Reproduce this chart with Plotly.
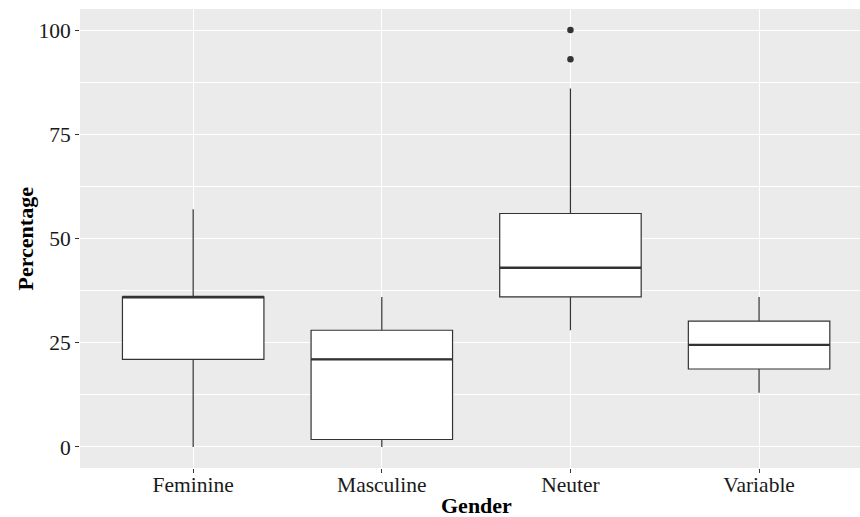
import plotly.graph_objects as go

categories = ["Feminine", "Masculine", "Neuter", "Variable"]
lower_whisker = [0, 0, 28, 13]
q1_values = [21, 1.8, 36, 18.7]
median_values = [36, 21, 43, 24.5]
q3_values = [36, 28, 56, 30.2]
upper_whisker = [57, 36, 86, 36]
outlier_category = ["Neuter", "Neuter"]
outlier_values = [100, 93]
y_ticks = [0, 25, 50, 75, 100]
y_minor = [12.5, 37.5, 62.5, 87.5]

box_width = 0.75
line_col = "#333333"
font_family = "Liberation Serif, Times New Roman, serif"
tick_font = dict(size=21.5, family=font_family, color="#1a1a1a")
title_font = dict(size=22, family=font_family, color="black")

fig = go.Figure()
for i, cat in enumerate(categories):
    fig.add_trace(go.Box(
        x=[i], q1=[q1_values[i]], median=[median_values[i]], q3=[q3_values[i]],
        lowerfence=[lower_whisker[i]], upperfence=[upper_whisker[i]],
        width=box_width, whiskerwidth=0, fillcolor="white",
        line=dict(color=line_col, width=1.2), boxpoints=False,
        showlegend=False, hoverinfo="skip", name=cat,
    ))
    # thicker median line, as in ggplot2
    fig.add_trace(go.Scatter(
        x=[i - box_width / 2, i + box_width / 2],
        y=[median_values[i], median_values[i]],
        mode="lines", line=dict(color=line_col, width=2.4),
        showlegend=False, hoverinfo="skip",
    ))

fig.add_trace(go.Scatter(
    x=[categories.index(c) for c in outlier_category], y=outlier_values,
    mode="markers", marker=dict(color=line_col, size=6.5),
    showlegend=False, hoverinfo="skip",
))

L, R, T, B = 80, 0, 9, 49
W, H = 860, 517
fig.update_layout(
    width=W, height=H,
    margin=dict(l=L, r=R, t=T, b=B, autoexpand=False),
    paper_bgcolor="white", plot_bgcolor="#EBEBEB",
    font=dict(family=font_family, color="#1a1a1a", size=16),
)
fig.update_xaxes(
    range=[-0.6, 3.535], tickmode="array",
    tickvals=list(range(len(categories))), ticktext=categories,
    showgrid=True, gridcolor="white", gridwidth=1.3, zeroline=False,
    ticks="outside", ticklen=4, tickcolor=line_col, tickwidth=1,
    tickfont=tick_font, automargin=False, showline=False,
    ticklabelstandoff=-7,
)
fig.update_yaxes(
    range=[-5.04, 105.04], tickmode="array", tickvals=y_ticks,
    showgrid=True, gridcolor="white", gridwidth=1.3, zeroline=False,
    minor=dict(tickmode="array", tickvals=y_minor, showgrid=True,
               gridcolor="white", gridwidth=0.6, ticks=""),
    ticks="outside", ticklen=4, tickcolor=line_col, tickwidth=1,
    tickfont=tick_font, automargin=False, showline=False,
)

pw = W - L - R
ph = H - T - B
fig.add_annotation(
    text="<b>Gender</b>", xref="paper", yref="paper",
    x=(476 - L) / pw, y=-(505 - (H - B)) / ph, yanchor="middle", xanchor="center",
    showarrow=False, font=title_font, height=18, valign="middle",
)
fig.add_annotation(
    text="<b>Percentage</b>", xref="paper", yref="paper",
    x=-(L - 25) / pw, y=0.5, xanchor="center", yanchor="middle", textangle=-90,
    showarrow=False, font=title_font,
)

fig.write_html("out.html", config={"displayModeBar": False},
               post_script="document.body.style.margin='0px';")
